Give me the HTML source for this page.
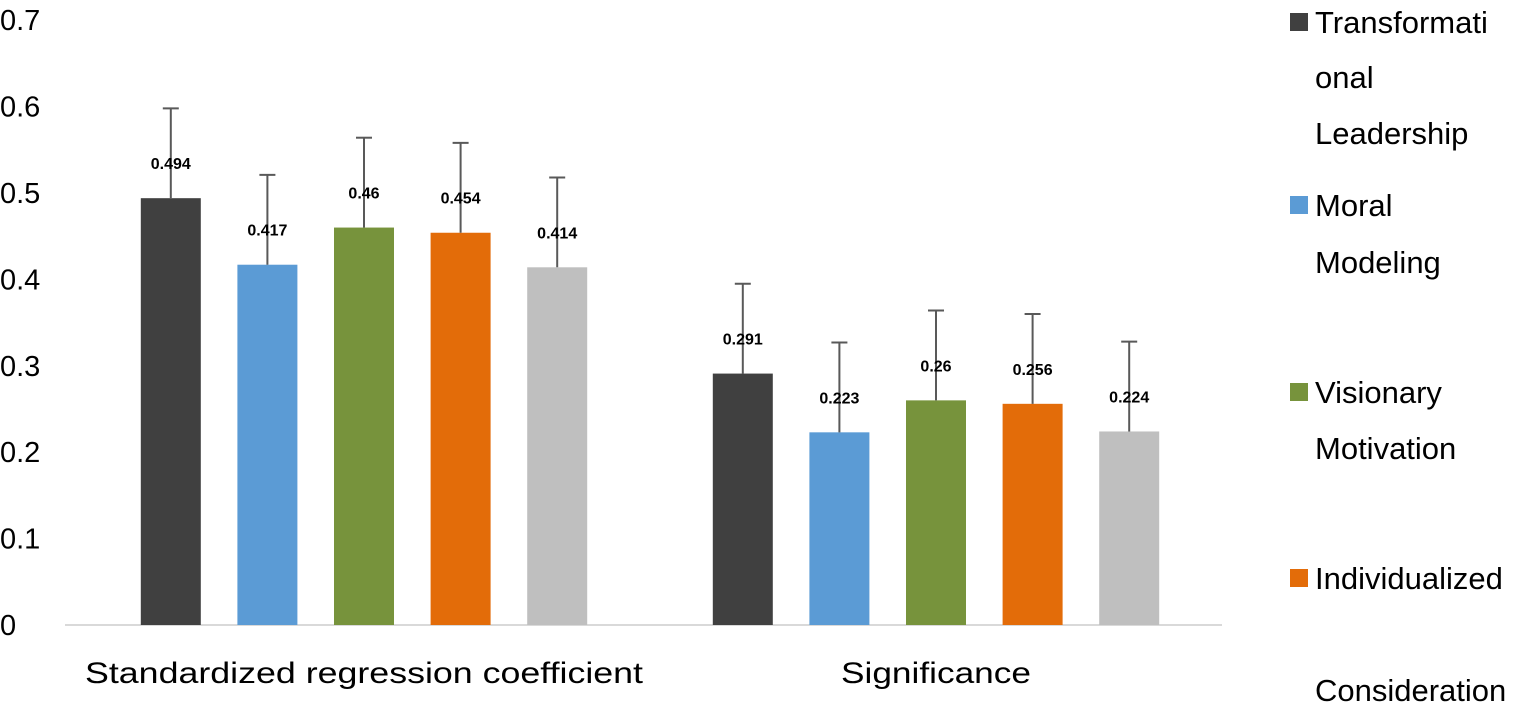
<!DOCTYPE html>
<html><head><meta charset="utf-8"><style>
html,body{margin:0;padding:0;background:#fff;}
svg{display:block;font-family:"Liberation Sans",sans-serif;}
</style></head><body>
<svg id="chart" width="1535" height="703" viewBox="0 0 1535 703" xmlns="http://www.w3.org/2000/svg"></svg>
<script>
const categories = ["Standardized regression coefficient", "Significance"];
const seriesNames = ["Transformational Leadership", "Moral Modeling", "Visionary Motivation", "Individualized Consideration", "Other"];
const series0 = [0.494, 0.291];
const series1 = [0.417, 0.223];
const series2 = [0.46, 0.26];
const series3 = [0.454, 0.256];
const series4 = [0.414, 0.224];
const errors = [0.104, 0.104];
const yTicks = ["0", "0.1", "0.2", "0.3", "0.4", "0.5", "0.6", "0.7"];
const labels0 = ["0.494", "0.291"];
const labels1 = ["0.417", "0.223"];
const labels2 = ["0.46", "0.26"];
const labels3 = ["0.454", "0.256"];
const labels4 = ["0.414", "0.224"];

const allSeries = [series0, series1, series2, series3, series4];
const allLabels = [labels0, labels1, labels2, labels3, labels4];
const colors = ["#404040", "#5B9BD5", "#77933C", "#E36C09", "#BFBFBF"];
const NS = "http://www.w3.org/2000/svg";
const svg = document.getElementById("chart");
const y0 = 625, pxPer = 864;
const yScale = v => y0 - v * pxPer;
const plotL = 78, plotR = 1222;
const catW = (plotR - plotL) / categories.length;
const xCenter = i => plotL + catW * (i + 0.5);
const step = 96.6, barW = 60;
function mk(tag, attrs, parent) {
  const e = document.createElementNS(NS, tag);
  for (const k in attrs) e.setAttribute(k, attrs[k]);
  (parent || svg).appendChild(e);
  return e;
}
yTicks.forEach((t) => {
  const v = parseFloat(t);
  const tx = mk("text", {x: 0, y: yScale(v) + 10, "font-size": 29, fill: "#000"});
  tx.textContent = t;
  
  
});
const axis = mk("line", {x1: 65, x2: plotR, y1: y0, y2: y0, stroke: "#D9D9D9", "stroke-width": 2});


allSeries.forEach((s, si) => {
  s.forEach((v, ci) => {
    const cx = xCenter(ci) + (si - 2) * step;
    const top = yScale(v);
    const r = mk("rect", {x: cx - barW / 2, y: top, width: barW, height: y0 - top, fill: colors[si]});
    
    
    const et = yScale(v + errors[ci]);
    const g = mk("g", {stroke: "#595959", "stroke-width": 2});
    
    
    mk("line", {x1: cx, x2: cx, y1: top, y2: et}, g);
    mk("line", {x1: cx - 8, x2: cx + 8, y1: et, y2: et}, g);
    const lt = mk("text", {x: cx, y: top - 29, "font-size": 16, "font-weight": "bold", "text-anchor": "middle", fill: "#000"});
    lt.textContent = allLabels[si][ci];
    
    
  });
});
const catLens = [558, 190];
categories.forEach((c, ci) => {
  const t = mk("text", {x: xCenter(ci), y: 683, "font-size": 30, "text-anchor": "middle", fill: "#000", textLength: catLens[ci], lengthAdjust: "spacingAndGlyphs"});
  t.textContent = c;
  
  
});
const legend = [
  {c: 0, lines: [["Transformati", 22], ["onal", 77], ["Leadership", 133]]},
  {c: 1, lines: [["Moral", 205], ["Modeling", 262]]},
  {c: 2, lines: [["Visionary", 392], ["Motivation", 448]]},
  {c: 3, lines: [["Individualized", 578], ["Consideration", 690]]}
];
legend.forEach(L => {
  const g = mk("g", {});
  
  
  const ly = L.lines[0][1];
  mk("rect", {x: 1290, y: ly - 9, width: 18, height: 18, fill: colors[L.c]}, g);
  L.lines.forEach(([txt, yy]) => {
    const t = mk("text", {x: 1315, y: yy + 11, "font-size": 31, fill: "#000"}, g);
    t.textContent = txt;
  });
});
</script>
</body></html>
